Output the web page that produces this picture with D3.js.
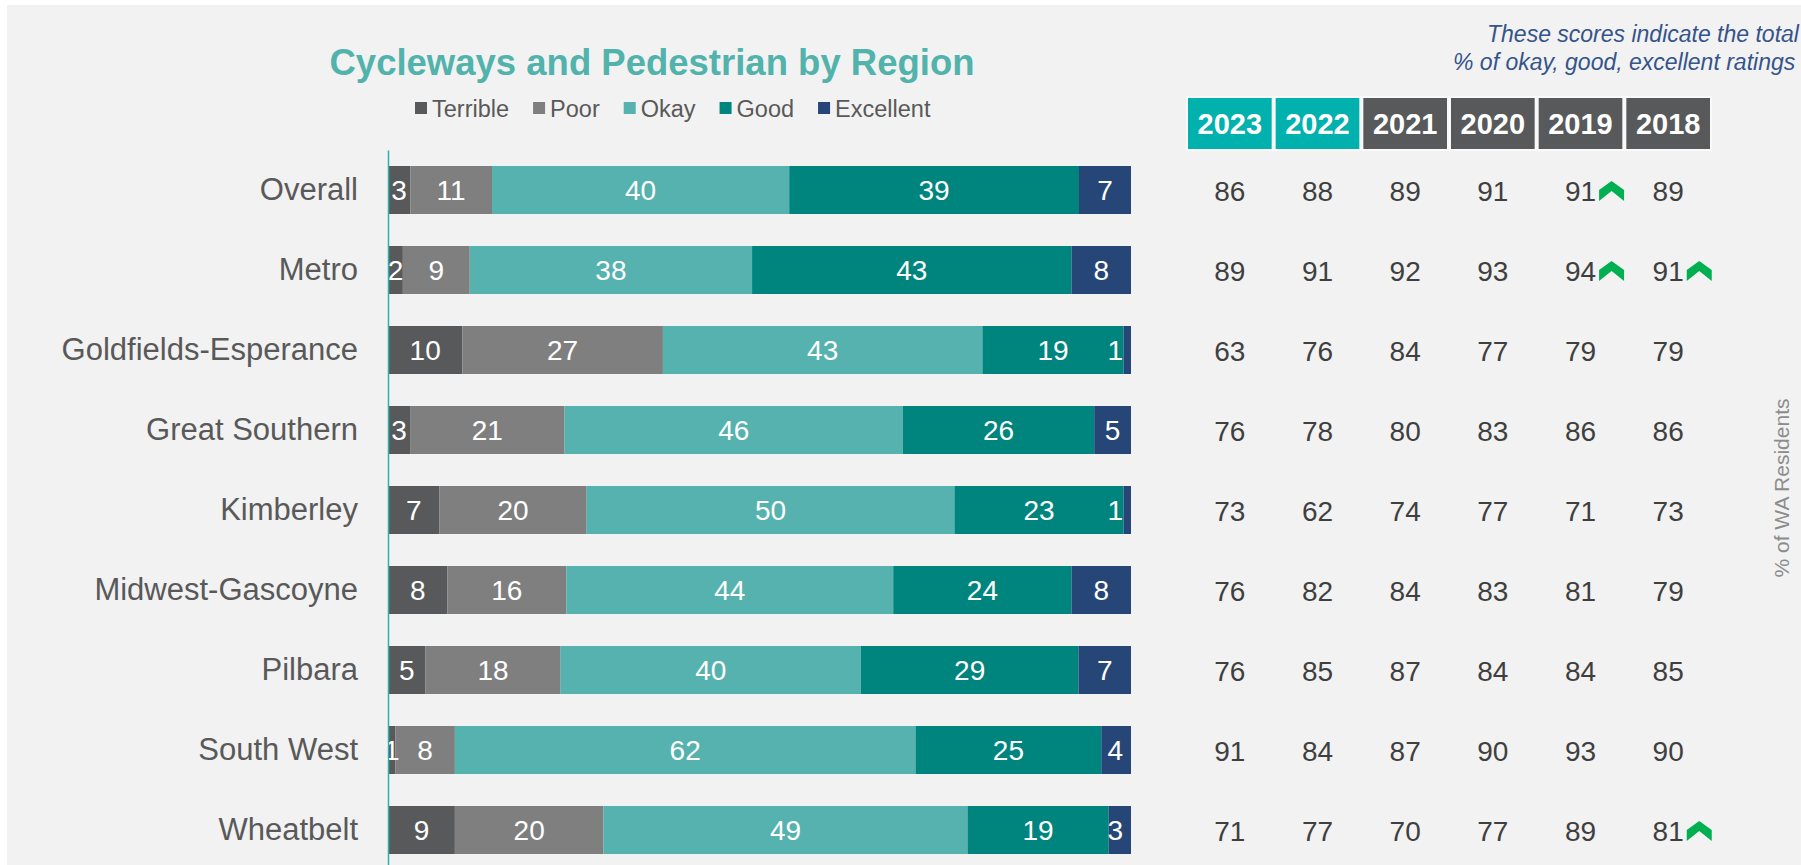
<!DOCTYPE html>
<html>
<head>
<meta charset="utf-8">
<script src="https://cdn.jsdelivr.net/npm/d3@7"></script>
<style>
  body { margin: 0; background: #fff; }
  text { font-family: Arial, "Liberation Sans", sans-serif; }
</style>
</head>
<body>
<div id="chart"></div>
<script>
// chart data
var regions = ["Overall", "Metro", "Goldfields-Esperance", "Great Southern", "Kimberley",
  "Midwest-Gascoyne", "Pilbara", "South West", "Wheatbelt"];
var ratings = ["Terrible", "Poor", "Okay", "Good", "Excellent"];

var terrible  = [3, 2, 10, 3, 7, 8, 5, 1, 9];
var poor      = [11, 9, 27, 21, 20, 16, 18, 8, 20];
var okay      = [40, 38, 43, 46, 50, 44, 40, 62, 49];
var good      = [39, 43, 19, 26, 23, 24, 29, 25, 19];
var excellent = [7, 8, 1, 5, 1, 8, 7, 4, 3];

var years = ["2023", "2022", "2021", "2020", "2019", "2018"];
var scores2023 = [86, 89, 63, 76, 73, 76, 76, 91, 71];
var scores2022 = [88, 91, 76, 78, 62, 82, 85, 84, 77];
var scores2021 = [89, 92, 84, 80, 74, 84, 87, 87, 70];
var scores2020 = [91, 93, 77, 83, 77, 83, 84, 90, 77];
var scores2019 = [91, 94, 79, 86, 71, 81, 84, 93, 89];
var scores2018 = [89, 91, 79, 86, 73, 79, 85, 90, 81];
// cells marked with a green up arrow
var upArrows = [["Overall", "2019"], ["Metro", "2019"], ["Metro", "2018"], ["Wheatbelt", "2018"]];

var colors = ["#58595b", "#7f7f7f", "#55b2ae", "#00857e", "#264677"];

var svgWidth = 1801;
var svgHeight = 865;

var svg = d3.select("#chart")
  .append("svg")
  .attr("width", svgWidth)
  .attr("height", svgHeight);

svg.append("rect")
  .attr("x", 7).attr("y", 5)
  .attr("width", svgWidth).attr("height", svgHeight)
  .attr("fill", "#f2f2f2");

// build rows for the stack
var seriesArrays = [terrible, poor, okay, good, excellent];
var rows = regions.map(function(r, i) {
  var o = { region: r };
  ratings.forEach(function(k, j) { o[k] = seriesArrays[j][i]; });
  return o;
});

var yearArrays = [scores2023, scores2022, scores2021, scores2020, scores2019, scores2018];

// scales
var x = d3.scaleLinear().domain([0, 1]).range([388, 1131]);
var y = d3.scaleBand().domain(regions).range([150, 870])
  .paddingInner(0.4).paddingOuter(0.2);

var stacked = d3.stack().keys(ratings).offset(d3.stackOffsetExpand)(rows);

// title
svg.append("text")
  .attr("x", 652).attr("y", 75)
  .attr("text-anchor", "middle")
  .attr("font-size", 36.5)
  .attr("font-weight", "bold")
  .attr("fill", "#52b2ac")
  .text("Cycleways and Pedestrian by Region");

// legend
var legendX = 415;
ratings.forEach(function(k, i) {
  svg.append("rect")
    .attr("x", legendX).attr("y", 102)
    .attr("width", 12).attr("height", 12)
    .attr("fill", colors[i]);
  var t = svg.append("text")
    .attr("x", legendX + 17).attr("y", 116.5)
    .attr("font-size", 23.5)
    .attr("fill", "#595959")
    .text(k);
  legendX += 17 + t.node().getComputedTextLength() + 24;
});

// bars
var layers = svg.append("g").selectAll("g")
  .data(stacked)
  .enter()
  .append("g")
  .attr("fill", function(d, i) { return colors[i]; });

layers.selectAll("rect")
  .data(function(d) { return d; })
  .enter()
  .append("rect")
  .attr("x", function(d) { return x(d[0]); })
  .attr("y", function(d) { return y(d.data.region); })
  .attr("width", function(d) { return x(d[1]) - x(d[0]); })
  .attr("height", y.bandwidth());

// value labels in bars
stacked.forEach(function(layer) {
  layer.forEach(function(d) {
    var t = svg.append("text")
      .attr("y", y(d.data.region) + y.bandwidth() / 2)
      .attr("dy", "0.36em")
      .attr("text-anchor", "middle")
      .attr("font-size", 28)
      .attr("fill", "#fff")
      .text(d.data[layer.key]);
    var w = t.node().getComputedTextLength();
    var cx = (x(d[0]) + x(d[1])) / 2;
    cx = Math.min(x(1) - 8 - w / 2, cx);
    t.attr("x", cx);
  });
});

// region axis
var axis = svg.append("g")
  .attr("transform", "translate(388,0)")
  .call(d3.axisLeft(y).tickSize(0).tickSizeOuter(0).tickPadding(30));
axis.select(".domain").attr("stroke", "#2ab3ad").attr("stroke-width", 1.5);
axis.selectAll("text")
  .attr("font-size", 31)
  .attr("fill", "#595959")
  .style("font-family", "Arial, 'Liberation Sans', sans-serif");

// score table
var xt = d3.scaleBand().domain(years).range([1186, 1712]);

svg.selectAll(".hdr")
  .data(years)
  .enter()
  .append("rect")
  .attr("class", "hdr")
  .attr("x", function(d) { return xt(d) + 1; })
  .attr("y", 97)
  .attr("width", xt.bandwidth() - 2)
  .attr("height", 53)
  .attr("fill", function(d, i) { return i < 2 ? "#00b1ad" : "#58595b"; })
  .attr("stroke", "#fafafa")
  .attr("stroke-width", 2);

svg.selectAll(".hdrText")
  .data(years)
  .enter()
  .append("text")
  .attr("class", "hdrText")
  .attr("x", function(d) { return xt(d) + xt.bandwidth() / 2; })
  .attr("y", 124)
  .attr("dy", "0.36em")
  .attr("text-anchor", "middle")
  .attr("font-size", 29)
  .attr("font-weight", "bold")
  .attr("fill", "#fff")
  .text(function(d) { return d; });

years.forEach(function(yr, j) {
  regions.forEach(function(r, i) {
    var cy = y(r) + y.bandwidth() / 2 + 1;
    var t = svg.append("text")
      .attr("x", xt(yr) + xt.bandwidth() / 2)
      .attr("y", cy)
      .attr("dy", "0.36em")
      .attr("text-anchor", "middle")
      .attr("font-size", 28)
      .attr("fill", "#3f3f3f")
      .text(yearArrays[j][i]);
    var hasArrow = upArrows.some(function(a) { return a[0] === r && a[1] === yr; });
    if (hasArrow) {
      var bb = t.node().getBBox();
      var ax = bb.x + bb.width + 3;
      var ay = cy - 10;
      var pts = [[0, 9], [12.5, 0], [25, 9], [25, 20], [12.5, 10], [0, 20]];
      svg.append("polygon")
        .attr("points", pts.map(function(p) { return (ax + p[0]) + "," + (ay + p[1]); }).join(" "))
        .attr("fill", "#00b050");
    }
  });
});

// side notes
svg.append("text")
  .attr("x", 1487).attr("y", 42)
  .attr("font-size", 23)
  .attr("font-style", "italic")
  .attr("fill", "#35548a")
  .text("These scores indicate the total");
svg.append("text")
  .attr("x", 1453).attr("y", 70)
  .attr("font-size", 23)
  .attr("font-style", "italic")
  .attr("fill", "#35548a")
  .text("% of okay, good, excellent ratings");

svg.append("text")
  .attr("transform", "translate(1781,488) rotate(-90)")
  .attr("text-anchor", "middle")
  .attr("dy", "0.36em")
  .attr("font-size", 21)
  .attr("fill", "#8c8c8c")
  .text("% of WA Residents");
</script>
</body>
</html>
